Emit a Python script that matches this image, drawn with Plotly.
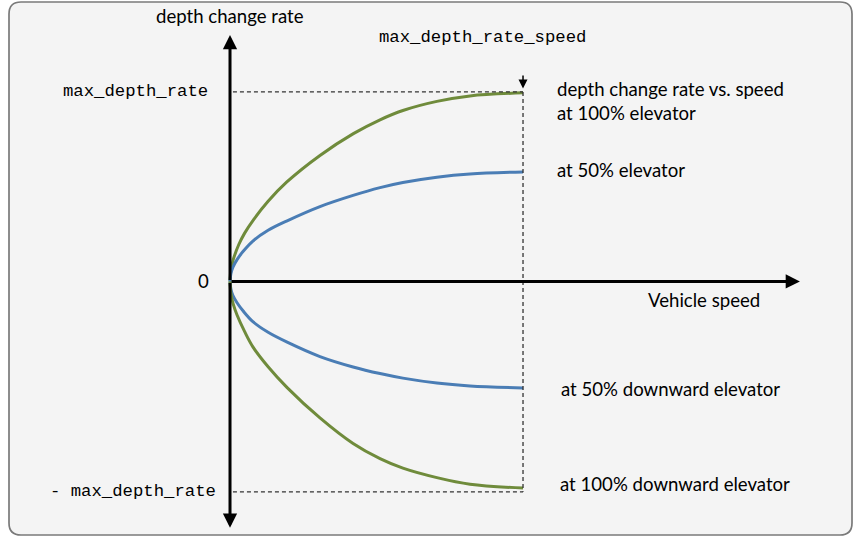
import plotly.graph_objects as go

# ---- data (speed in % of max_depth_rate_speed, rate in % of max_depth_rate) ----
green_up_speed = [0, 0.3, 1.1, 3, 5, 8, 13, 19.4, 30.7, 42.1, 51.2, 59.0, 70.6, 81.9, 100]
green_up_rate = [0, 6, 11.5, 19.5, 25.5, 32.5, 42.3, 52.5, 66.5, 78, 85.3, 90.2, 95.0, 97.9, 99.5]

blue_up_speed = [0, 0.3, 1, 2.4, 4.5, 7.8, 13, 19.5, 30.7, 42.0, 51.2, 59.0, 70.6, 81.9, 100]
blue_up_rate = [0, 4.1, 7.5, 11.5, 15.9, 21.3, 27.0, 32.0, 39.5, 45.4, 49.5, 52.2, 55.0, 56.7, 57.8]

blue_dn_speed = [0, 0.3, 1, 2.4, 4.5, 7.8, 13, 19.5, 30.7, 42.0, 51.2, 59.0, 70.6, 81.9, 100]
blue_dn_rate = [0, -4, -7.5, -11.2, -15.6, -21.2, -26.8, -32.0, -39.6, -45.1, -48.6, -51.0, -53.6, -55.1, -56.2]

green_dn_speed = [0, 0.3, 1.1, 2.4, 5, 7.8, 13, 19.5, 30.7, 42.0, 51.2, 59.0, 70.6, 81.9, 100]
green_dn_rate = [0, -6.5, -12, -17.7, -26.5, -34.5, -45, -56, -72, -85.5, -93.5, -98.5, -103.5, -107, -109]

max_speed = 100
max_rate = 100
min_rate = -111
axis_y_top = 130
axis_y_bottom = -130
axis_x_right = 194.5

GREEN = "#6f8b3b"
BLUE = "#4a7db5"
SANS = "Lato, 'Open Sans', sans-serif"
MONO = "'Liberation Mono', 'DejaVu Sans Mono', monospace"
FS = 18.6
MS = 17.3

W, H = 855, 540
XR = [-78.5, 213.3]
YR = [-136.4, 148.5]

fig = go.Figure()

# rounded frame (paper coords == pixels since margins are 0)
def P(px, py):
    return f"{px / W:.5f},{1 - py / H:.5f}"

x0, y0, x1, y1, r = 9, 2, 852, 535, 12
frame = (f"M {P(x0 + r, y0)} L {P(x1 - r, y0)} Q {P(x1, y0)} {P(x1, y0 + r)} "
         f"L {P(x1, y1 - r)} Q {P(x1, y1)} {P(x1 - r, y1)} L {P(x0 + r, y1)} "
         f"Q {P(x0, y1)} {P(x0, y1 - r)} L {P(x0, y0 + r)} Q {P(x0, y0)} {P(x0 + r, y0)} Z")
fig.add_shape(type="path", xref="paper", yref="paper", path=frame,
              fillcolor="#f4f4f4", line=dict(color="#7a7a7a", width=1.7), layer="below")

# dashed guide lines
dash = dict(color="#333333", width=1.3, dash="4px,3px")
fig.add_shape(type="line", xref="x", yref="y", x0=1, x1=max_speed, y0=max_rate, y1=max_rate, line=dash)
fig.add_shape(type="line", xref="x", yref="y", x0=1, x1=max_speed, y0=min_rate, y1=min_rate, line=dash)
fig.add_shape(type="line", xref="x", yref="y", x0=max_speed, x1=max_speed, y0=max_rate, y1=min_rate, line=dash)

# curves
for xs, ys, c in [(green_up_speed, green_up_rate, GREEN), (blue_up_speed, blue_up_rate, BLUE),
                  (blue_dn_speed, blue_dn_rate, BLUE), (green_dn_speed, green_dn_rate, GREEN)]:
    fig.add_trace(go.Scatter(x=xs, y=ys, mode="lines", line=dict(color=c, width=3, shape="spline", smoothing=1.0),
                             hoverinfo="skip", showlegend=False))

# axis arrows
arrow = dict(text="", showarrow=True, arrowhead=2, arrowsize=0.95, arrowwidth=3, arrowcolor="black",
             xref="x", yref="y", axref="x", ayref="y", standoff=0)
fig.add_annotation(x=0, y=axis_y_top, ax=0, ay=0, **arrow)
fig.add_annotation(x=0, y=axis_y_bottom, ax=0, ay=0, **arrow)
fig.add_annotation(x=axis_x_right, y=0, ax=0, ay=0, **arrow)
# small arrow to max_depth_rate_speed
fig.add_annotation(x=max_speed, y=101.8, ax=max_speed, ay=109.5, text="", showarrow=True, arrowhead=2,
                   arrowsize=1.2, arrowwidth=1.5, arrowcolor="black", xref="x", yref="y", axref="x", ayref="y")

def label(x, y, text, font, size, xanchor="center", align="center"):
    fig.add_annotation(x=x, y=y, text=text, showarrow=False, xref="x", yref="y", xanchor=xanchor,
                       yanchor="middle", align=align, font=dict(family=font, size=size, color="black"))

label(0, 140, "depth change rate", SANS, FS)
label(-6.8, max_rate, "max_depth_rate", MONO, MS, xanchor="right")
label(-4.1, min_rate, "- max_depth_rate", MONO, MS, xanchor="right")
label(-9.2, 0, "0", SANS, FS)
label(86, 128.5, "max_depth_rate_speed", MONO, MS)
label(161.8, -9.8, "Vehicle speed", SANS, FS)
label(110.9, 95, "depth change rate vs. speed<br>at 100% elevator", SANS, FS, xanchor="left", align="left")
label(110.9, 58.8, "at 50% elevator", SANS, FS, xanchor="left")
label(112.3, -56.7, "at 50% downward elevator", SANS, FS, xanchor="left")
label(111.8, -106.9, "at 100% downward elevator", SANS, FS, xanchor="left")

fig.update_layout(width=W, height=H, margin=dict(l=0, r=0, t=0, b=0), autosize=False,
                  paper_bgcolor="white", plot_bgcolor="rgba(0,0,0,0)", showlegend=False)
fig.update_xaxes(range=XR, visible=False, fixedrange=True)
fig.update_yaxes(range=YR, visible=False, fixedrange=True)

fig.write_html("out.html", config={"displayModeBar": False},
               post_script="document.body.style.margin='0';")
